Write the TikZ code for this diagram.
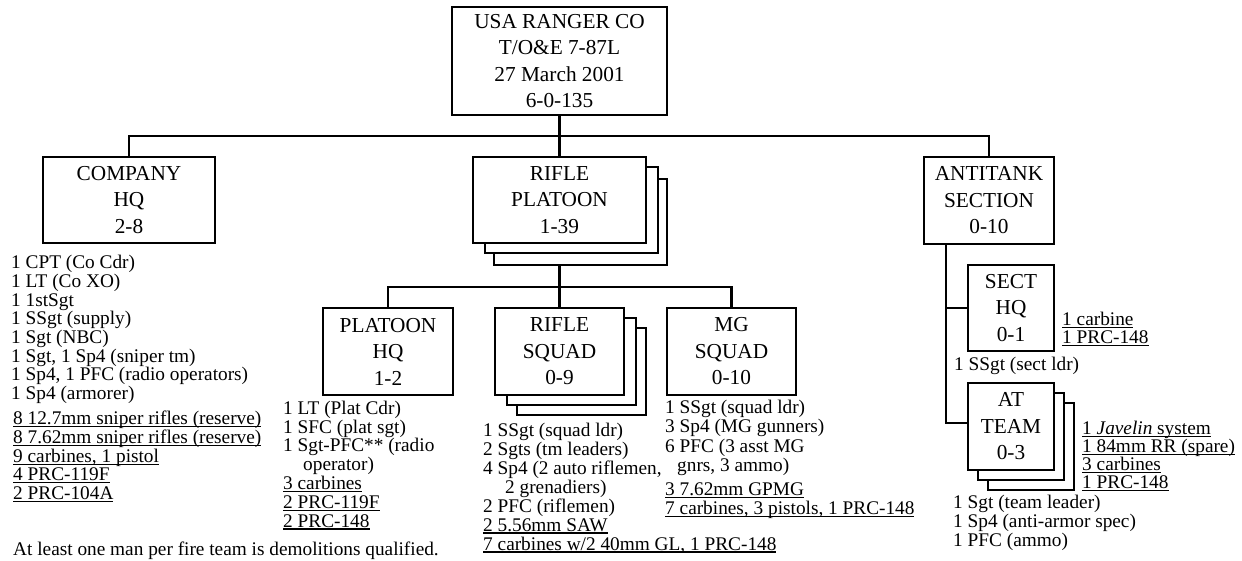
\documentclass[tikz,border=0pt]{standalone}
\usepackage{fontspec}
\setmainfont{Liberation Serif}
\newsavebox\ulbox
\newcommand\ul[1]{\sbox\ulbox{#1}\rlap{\rule[-2.6pt]{\wd\ulbox}{1.2pt}}\usebox\ulbox}
\begin{document}
\begin{tikzpicture}[x=1pt,y=-1pt,
  box/.style={draw,line width=2.6pt,fill=white,inner sep=0pt,align=center,
    font=\fontsize{21.3}{26.5}\selectfont},
  shadowbox/.style={draw,line width=2.6pt,fill=white,inner sep=0pt},
  conn/.style={line width=2.8pt},
  side/.style={anchor=base west,inner sep=0pt,align=left,
    font=\fontsize{19.3}{18.7}\selectfont}]
\useasboundingbox (0,0) rectangle (1242,561);

% boxes
\node[box,minimum width=215,minimum height=108] (top) at (559.5,61)
  {USA RANGER CO\\T/O\&E 7-87L\\27 March 2001\\6-0-135};
\node[box,minimum width=172,minimum height=86] (chq) at (129,200)
  {COMPANY\\HQ\\2-8};
\node[shadowbox,minimum width=173,minimum height=86] (rp3) at (580.5,222) {};
\node[shadowbox,minimum width=173,minimum height=86] (rp2) at (571.5,210) {};
\node[box,minimum width=173,minimum height=86] (rp) at (559.5,200)
  {RIFLE\\PLATOON\\1-39};
\node[box,minimum width=130,minimum height=87] (at) at (989,200.5)
  {ANTITANK\\SECTION\\0-10};
\node[box,minimum width=130,minimum height=87] (phq) at (388,351.5)
  {PLATOON\\HQ\\1-2};
\node[shadowbox,minimum width=129,minimum height=87] (rs3) at (581.5,371.5) {};
\node[shadowbox,minimum width=129,minimum height=87] (rs2) at (571.5,361.5) {};
\node[box,minimum width=129,minimum height=87] (rs) at (559.5,351.5)
  {RIFLE\\SQUAD\\0-9};
\node[box,minimum width=129,minimum height=87] (mg) at (731.5,351.5)
  {MG\\SQUAD\\0-10};
\node[box,minimum width=86,minimum height=86] (shq) at (1011,308)
  {SECT\\HQ\\0-1};
\node[shadowbox,minimum width=86,minimum height=87] (tm3) at (1031,446.5) {};
\node[shadowbox,minimum width=86,minimum height=87] (tm2) at (1021,436.5) {};
\node[box,minimum width=86,minimum height=87] (tm) at (1011,426.5)
  {AT\\TEAM\\0-3};

% connectors
\coordinate (busL) at (129,136);
\coordinate (busR) at (989,136);
\coordinate (pbusL) at (388,287);
\coordinate (pbusR) at (731.5,287);
\coordinate (atv) at (946,423);
\draw[conn] (top.south) -- (top.south |- busL);
\draw[conn] (chq.north) -- (busL) -- (busR) -- (at.north);
\draw[conn] (top.south |- busL) -- (rp.north);
\draw[conn] (rp.south |- rp3.south) -- (rs.north);
\draw[conn] (phq.north) -- (pbusL) -- (pbusR) -- (mg.north);
\draw[conn] (at.south -| atv) -- (atv) -- (atv -| tm.west);
\draw[conn] (shq.west -| atv) -- (shq.west);

% texts (anchor = baseline of the last line)
\node[side] (chqp) at (11,399.5) {1 CPT (Co Cdr)\\1 LT (Co XO)\\1 1stSgt\\1 SSgt (supply)\\1 Sgt (NBC)\\1 Sgt, 1 Sp4 (sniper tm)\\1 Sp4, 1 PFC (radio operators)\\1 Sp4 (armorer)};
\node[side] (chqe) at (13,499.5) {\ul{8 12.7mm sniper rifles (reserve)}\\\ul{8 7.62mm sniper rifles (reserve)}\\\ul{9 carbines, 1 pistol}\\\ul{4 PRC-119F}\\\ul{2 PRC-104A}};
\node[side] (note) at (13,555.5) {At least one man per fire team is demolitions qualified.};

\node[side,font=\fontsize{19.3}{18.8}\selectfont] (phqt) at (283,527) {1 LT (Plat Cdr)\\1 SFC (plat sgt)\\1 Sgt-PFC** (radio\\\hspace*{20pt}operator)\\\ul{3 carbines}\\\ul{2 PRC-119F}\\\ul{2 PRC-148}};

\node[side,font=\fontsize{19.3}{19}\selectfont] (rst) at (483,550) {1 SSgt (squad ldr)\\2 Sgts (tm leaders)\\4 Sp4 (2 auto riflemen,\\\hspace*{22pt}2 grenadiers)\\2 PFC (riflemen)\\\ul{2 5.56mm SAW}\\\ul{7 carbines w/2 40mm GL, 1 PRC-148}};

\node[side,font=\fontsize{19.3}{19.3}\selectfont] (mgp) at (665,471.5) {1 SSgt (squad ldr)\\3 Sp4 (MG gunners)\\6 PFC (3 asst MG\\\hspace*{12pt}gnrs, 3 ammo)};
\node[side,font=\fontsize{19.3}{19}\selectfont] (mge) at (665,514.5) {\ul{3 7.62mm GPMG}\\\ul{7 carbines, 3 pistols, 1 PRC-148}};

\node[side,font=\fontsize{19.3}{18}\selectfont] (shqe) at (1062,343.5) {\ul{1 carbine}\\\ul{1 PRC-148}};
\node[side] (shqp) at (954,370.5) {1 SSgt (sect ldr)};

\node[side,font=\fontsize{19.3}{18}\selectfont] (tme) at (1082,488.5) {\ul{1 \textit{Javelin} system}\\\ul{1 84mm RR (spare)}\\\ul{3 carbines}\\\ul{1 PRC-148}};
\node[side,font=\fontsize{19.3}{17.2}\selectfont] (tmp) at (953,546) {1 Sgt (team leader)\\1 Sp4 (anti-armor spec)\\1 PFC (ammo)};
\end{tikzpicture}
\end{document}
